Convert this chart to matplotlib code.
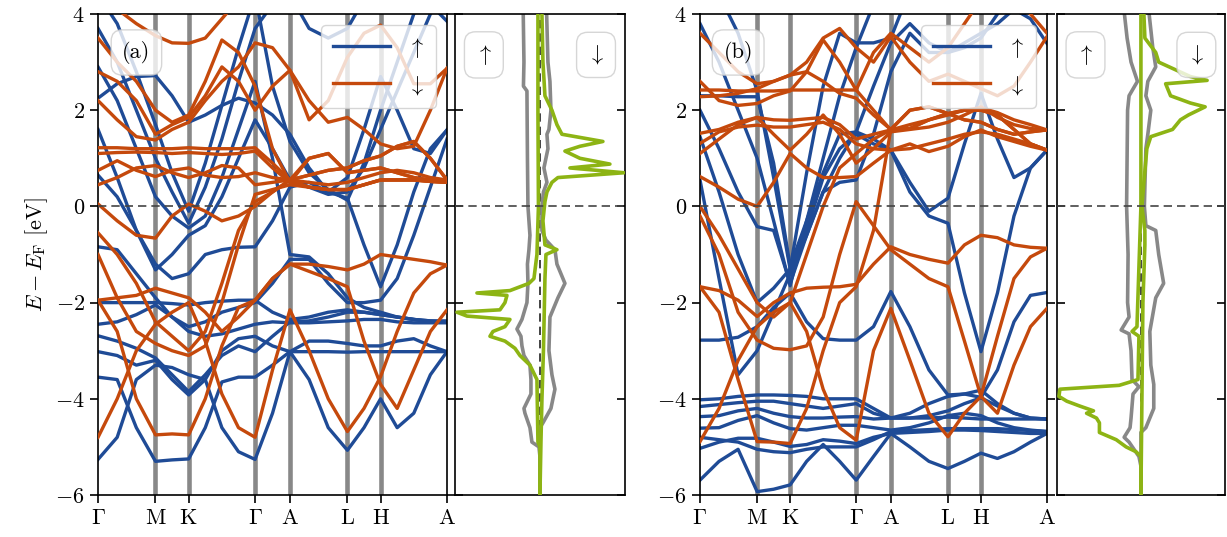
import matplotlib
matplotlib.use('Agg')
import matplotlib.pyplot as plt
from matplotlib.lines import Line2D
import numpy as np


# Style
plt.rcParams.update({
    'font.family': 'serif',
    'font.serif': ['cmr10', 'DejaVu Serif'],
    'mathtext.fontset': 'cm',
    'axes.unicode_minus': False,
    'font.size': 16,
    'axes.linewidth': 1.2,
})

BLUE = '#1f4b96'
ORANGE = '#c5490c'
GREEN = '#8db414'
GREY = '#888888'


# Data
# k-path: segment lengths and sample fractions along each segment
k_labels = [r'$\Gamma$', r'$\mathrm{M}$', r'$\mathrm{K}$', r'$\Gamma$',
            r'$\mathrm{A}$', r'$\mathrm{L}$', r'$\mathrm{H}$', r'$\mathrm{A}$']
seg_len = [0.577, 0.333, 0.667, 0.35, 0.577, 0.333, 0.667]
seg_frac = [[0, 1/3, 2/3], [0, 0.5], [0, 0.25, 0.5, 0.75], [0, 0.5],
            [0, 1/3, 2/3], [0, 0.5], [0, 0.25, 0.5, 0.75]]

# (a) bands, energies [eV] at the 21 k samples
a_up = [
    [-5.26, -4.8, -3.6, -3.3, -3.35, -3.5, -3.6, -4.6, -5.1, -5.26, -4.3, -3.02, -3.6, -4.6, -5.07, -4.6, -4.0, -4.6, -4.3, -3.5, -3.02],
    [-3.55, -3.6, -4.6, -5.3, -5.27, -5.25, -4.6, -3.65, -3.55, -3.55, -3.3, -3.02, -2.8, -2.8, -2.85, -2.9, -2.9, -2.8, -2.75, -2.9, -3.02],
    [-3.02, -3.1, -3.3, -3.2, -3.6, -3.92, -3.6, -3.0, -2.75, -2.7, -2.9, -3.02, -3.02, -3.02, -3.03, -3.02, -3.02, -3.02, -3.02, -3.02, -3.02],
    [-2.69, -2.8, -2.95, -3.15, -3.5, -3.85, -3.5, -3.1, -2.9, -3.02, -2.7, -2.4, -2.38, -2.3, -2.2, -2.2, -2.25, -2.3, -2.35, -2.4, -2.4],
    [-2.45, -2.4, -2.25, -2.05, -2.3, -2.6, -2.7, -2.65, -2.55, -2.45, -2.4, -2.42, -2.42, -2.4, -2.38, -2.35, -2.35, -2.4, -2.42, -2.42, -2.42],
    [-2.0, -2.0, -2.0, -2.0, -2.02, -2.05, -2.0, -1.97, -1.95, -1.95, -2.2, -2.35, -2.3, -2.2, -2.15, -2.2, -2.25, -2.3, -2.35, -2.38, -2.38],
    [-0.84, -0.9, -1.4, -1.9, -2.3, -2.5, -2.4, -2.2, -2.1, -2.0, -1.6, -1.1, -1.1, -1.6, -2.0, -2.0, -1.95, -1.5, -0.6, 0.4, 1.4],
    [0.65, 0.2, -0.5, -1.2, -1.5, -1.4, -1.0, -0.9, -0.85, -0.84, -0.3, 0.4, 0.5, 0.3, 0.17, -0.8, -1.67, -0.8, 0.3, 1.2, 1.59],
    [2.25, 2.55, 2.7, 2.72, 2.3, 1.75, 1.9, 2.1, 2.25, 2.15, 1.9, 1.5, 0.8, 0.3, 0.6, 1.6, 2.7, 2.0, 1.2, 1.1, 1.59],
    [3.7, 3.0, 2.0, 1.0, 0.3, -0.35, 0.4, 1.4, 2.6, 3.7, 4.2, 4.4, 3.7, 3.5, 3.7, 4.3, 4.5, 4.5, 4.5, 4.2, 3.85],
    [4.4, 3.8, 2.8, 1.7, 0.7, -0.1, 0.9, 2.1, 3.3, 4.4, 2.5, 1.35, 0.7, 0.35, 0.13, 0.9, 2.0, 3.0, 4.0, 4.5, 4.5],
    [1.6, 0.6, -0.5, -1.32, -1.0, -0.6, -0.4, 0.2, 1.0, 1.8, 1.2, 0.55, 0.4, 0.25, 0.3, 0.8, 1.6, 2.4, 3.2, 4.0, 4.5],
    [2.9, 2.2, 1.2, 0.2, -0.2, -0.45, -0.2, 0.6, 1.6, 2.6, 1.0, -1.0, -1.05, -1.4, -1.9, -2.1, -2.2, -2.3, -2.35, -2.38, -2.4],
]
a_dn = [
    [-4.8, -4.0, -3.0, -2.45, -2.2, -2.0, -2.8, -3.9, -4.6, -4.8, -3.4, -2.15, -3.0, -4.0, -4.68, -4.2, -3.54, -2.6, -1.8, -1.4, -1.22],
    [-1.95, -2.6, -4.0, -4.75, -4.73, -4.75, -4.0, -2.9, -2.1, -1.95, -1.5, -1.2, -1.35, -1.5, -1.67, -2.8, -3.7, -4.2, -3.4, -2.6, -2.15],
    [-1.0, -1.9, -2.6, -2.85, -3.0, -3.1, -2.9, -2.0, -0.8, 0.25, 0.35, 0.45, 0.4, 0.35, 0.35, 0.45, 0.55, 0.55, 0.55, 0.52, 0.5],
    [-1.95, -1.9, -1.85, -1.7, -1.8, -1.9, -2.2, -2.6, -2.3, -1.95, -1.5, -1.2, -1.2, -1.25, -1.32, -1.2, -1.0, -1.05, -1.1, -1.15, -1.22],
    [-0.55, -1.0, -1.6, -2.4, -2.7, -3.0, -2.6, -1.6, -0.5, 0.1, 0.3, 0.55, 0.65, 0.75, 0.8, 0.95, 1.05, 1.25, 1.35, 1.0, 0.55],
    [0.05, -0.3, -0.6, -0.66, -0.2, 0.05, -0.1, -0.3, -0.2, 0.0, 0.3, 0.55, 1.0, 1.1, 0.7, 0.75, 0.8, 0.7, 0.6, 0.55, 0.55],
    [0.45, 0.6, 0.8, 0.85, 0.7, 0.6, 0.7, 0.85, 0.8, 0.45, 0.5, 0.55, 0.5, 0.45, 0.5, 0.6, 0.7, 0.75, 0.7, 0.6, 0.55],
    [0.75, 0.95, 0.75, 0.62, 0.75, 0.8, 0.65, 0.6, 0.62, 0.7, 0.6, 0.55, 0.4, 0.35, 0.35, 0.45, 0.55, 0.55, 0.55, 0.52, 0.5],
    [1.22, 1.22, 1.2, 1.2, 1.2, 1.22, 1.2, 1.2, 1.2, 1.22, 0.9, 0.55, 0.65, 0.75, 0.8, 0.95, 1.05, 1.25, 1.35, 1.0, 0.55],
    [1.1, 1.12, 1.13, 1.12, 1.1, 1.12, 1.1, 1.08, 1.1, 1.15, 0.8, 0.5, 1.0, 1.1, 0.7, 0.75, 0.8, 0.7, 0.6, 0.55, 0.55],
    [2.2, 1.8, 1.45, 1.38, 1.6, 1.75, 2.2, 2.6, 2.9, 3.4, 3.3, 2.83, 2.2, 1.75, 1.85, 1.6, 1.3, 1.2, 1.25, 2.0, 2.87],
    [2.8, 2.6, 2.2, 1.5, 1.7, 1.85, 2.3, 2.9, 2.6, 2.0, 2.5, 2.83, 1.8, 2.2, 3.1, 3.6, 3.77, 3.3, 2.55, 2.55, 2.87],
    [4.3, 4.1, 3.8, 3.55, 3.4, 3.39, 3.5, 3.9, 4.3, 4.5, 4.5, 4.5, 4.5, 4.5, 4.5, 4.5, 4.5, 4.5, 4.5, 4.5, 4.5],
    [3.5, 3.0, 2.6, 2.0, 1.75, 1.9, 2.6, 3.46, 3.2, 2.5, 1.2, 0.5, 0.4, 0.35, 0.35, 0.45, 0.55, 0.55, 0.55, 0.52, 0.5],
]

# (b) bands
b_up = [
    [-5.69, -5.3, -5.05, -5.93, -5.88, -5.79, -5.3, -4.95, -5.3, -5.69, -5.2, -4.72, -5.0, -5.3, -5.45, -5.3, -5.13, -5.24, -5.1, -4.9, -4.72],
    [-5.03, -4.9, -4.82, -4.82, -4.9, -4.99, -4.95, -4.85, -4.88, -4.93, -4.8, -4.72, -4.7, -4.68, -4.65, -4.65, -4.66, -4.68, -4.7, -4.72, -4.72],
    [-4.8, -4.85, -4.9, -5.05, -5.1, -5.12, -5.05, -5.0, -5.0, -5.0, -4.85, -4.68, -4.66, -4.64, -4.62, -4.62, -4.62, -4.62, -4.64, -4.66, -4.68],
    [-4.61, -4.6, -4.45, -4.35, -4.5, -4.62, -4.65, -4.6, -4.55, -4.55, -4.6, -4.65, -4.6, -4.5, -4.35, -4.3, -4.35, -4.5, -4.6, -4.65, -4.68],
    [-4.37, -4.35, -4.25, -4.2, -4.3, -4.37, -4.4, -4.4, -4.38, -4.37, -4.42, -4.4, -4.4, -4.4, -4.38, -4.4, -4.42, -4.42, -4.42, -4.42, -4.42],
    [-4.16, -4.12, -4.08, -4.05, -4.05, -4.1, -4.15, -4.2, -4.15, -4.1, -4.3, -4.4, -4.4, -4.35, -4.25, -4.1, -3.98, -4.15, -4.3, -4.4, -4.42],
    [-4.02, -4.0, -3.95, -3.92, -3.92, -3.93, -3.95, -4.0, -4.0, -4.0, -4.2, -4.4, -4.3, -4.1, -3.95, -3.9, -3.82, -4.1, -4.3, -4.4, -4.42],
    [-2.78, -2.78, -2.72, -2.5, -2.1, -1.8, -2.4, -2.75, -2.78, -2.78, -2.5, -1.77, -2.5, -3.4, -3.92, -3.9, -3.97, -3.4, -2.4, -1.85, -1.79],
    [0.55, -1.5, -3.5, -3.0, -2.2, -1.4, -0.6, 0.3, 1.0, 1.55, 1.4, 1.17, 0.3, -0.2, -0.35, -1.8, -3.02, -1.8, -0.2, 0.8, 1.17],
    [1.45, 0.3, -1.0, -2.0, -1.7, -1.3, -0.5, 0.6, 1.2, 1.5, 1.3, 1.17, 0.5, -0.1, 0.17, 1.3, 2.35, 1.4, 0.6, 0.8, 1.17],
    [2.0, 1.2, 0.3, -0.42, -0.5, -1.6, -0.6, 0.3, 0.5, 0.55, 1.5, 2.8, 3.6, 3.2, 3.2, 3.4, 3.6, 3.8, 4.1, 3.9, 3.39],
    [2.3, 2.3, 2.28, 2.28, 0.9, -1.25, -0.3, 0.7, 1.5, 1.55, 2.5, 3.4, 3.8, 3.4, 3.2, 3.3, 3.5, 4.0, 4.5, 4.5, 4.5],
    [4.5, 4.4, 3.6, 2.4, 0.6, -1.3, 0.7, 2.5, 3.6, 3.4, 3.4, 3.5, 4.5, 4.5, 4.5, 4.5, 4.5, 4.5, 4.5, 4.5, 4.5],
    [3.8, 3.0, 2.0, 1.0, -0.3, -1.65, -0.3, 1.0, 2.3, 3.3, 4.2, 4.5, 4.5, 4.5, 4.5, 4.5, 4.5, 4.5, 4.5, 4.5, 4.5],
]
b_dn = [
    [-4.89, -4.2, -3.2, -2.5, -2.2, -2.0, -2.6, -3.8, -4.6, -4.86, -3.0, -2.12, -3.2, -4.3, -4.79, -4.3, -3.95, -2.7, -1.5, -1.05, -0.87],
    [-1.67, -2.2, -3.6, -4.89, -4.9, -4.93, -4.2, -3.0, -2.0, -1.67, -0.5, 1.6, 2.0, 2.07, 1.93, 2.0, 2.0, 1.9, 1.6, 1.3, 1.17],
    [-1.67, -1.75, -1.95, -2.29, -2.0, -1.8, -1.7, -1.68, -1.67, -1.62, -1.2, -0.84, -1.0, -1.1, -1.18, -0.8, -0.6, -0.65, -0.8, -0.85, -0.87],
    [-0.2, -1.0, -2.2, -2.78, -2.95, -2.98, -2.9, -2.3, -1.0, 0.1, -0.4, -0.9, -1.2, -1.5, -1.67, -2.8, -3.95, -4.3, -3.3, -2.5, -2.12],
    [0.0, -0.6, -1.3, -2.0, -2.3, -2.0, -1.0, 0.0, 0.8, 1.1, 1.4, 1.59, 1.62, 1.8, 1.93, 1.8, 1.75, 1.6, 1.5, 1.55, 1.59],
    [0.62, 0.4, 0.15, 0.0, 0.5, 1.1, 0.8, 0.6, 0.6, 0.62, 0.9, 1.17, 1.3, 1.14, 1.25, 1.45, 1.59, 1.45, 1.35, 1.25, 1.17],
    [1.1, 1.4, 1.7, 1.85, 1.5, 1.17, 1.5, 1.9, 1.5, 0.9, 1.2, 1.55, 1.6, 1.65, 1.75, 1.9, 2.07, 1.85, 1.7, 1.62, 1.59],
    [1.31, 1.55, 1.65, 1.69, 1.65, 1.65, 1.7, 1.75, 1.6, 1.3, 1.2, 1.17, 1.2, 1.3, 1.4, 1.5, 1.55, 1.5, 1.4, 1.3, 1.17],
    [1.52, 1.6, 1.75, 1.85, 1.8, 1.79, 1.82, 1.85, 1.7, 1.4, 1.5, 1.59, 1.7, 1.8, 1.9, 2.0, 2.05, 1.95, 1.8, 1.7, 1.59],
    [2.42, 2.42, 2.4, 2.4, 2.4, 2.42, 2.42, 2.42, 2.42, 2.42, 2.0, 1.59, 1.62, 1.8, 1.93, 1.8, 1.75, 1.6, 1.5, 1.55, 1.59],
    [2.28, 2.3, 2.35, 2.45, 2.6, 2.73, 2.8, 2.6, 2.35, 2.25, 1.9, 1.6, 2.0, 2.07, 1.93, 2.0, 2.0, 1.9, 1.6, 1.3, 1.17],
    [3.6, 3.2, 2.8, 2.55, 2.6, 2.73, 3.0, 3.5, 3.7, 3.3, 3.0, 3.53, 3.0, 2.6, 2.75, 2.6, 2.45, 2.3, 2.5, 3.0, 3.53],
    [2.6, 2.2, 2.1, 2.14, 2.3, 2.4, 2.8, 3.46, 3.0, 2.42, 3.2, 3.6, 3.3, 3.0, 3.3, 3.8, 4.3, 4.5, 4.5, 4.0, 3.6],
]

# (a) DOS, (energy, value) pairs; spin up plotted to the left
a_tot_up_E = [4.0, 3.0, 2.5, 2.4, 1.0, 0.0, -0.6, -0.9, -1.2, -1.6, -2.0, -2.35, -2.55, -2.7, -2.9, -3.1, -3.3, -3.6, -3.9, -4.2, -4.3, -4.6, -4.9, -5.0, -5.2, -6.0]
a_tot_up = [-1.67, -1.6, -1.65, -1.3, -1.25, -1.2, -1.0, -1.1, -1.25, -1.2, -1.3, -1.8, -2.3, -1.9, -1.8, -1.6, -1.0, -0.9, -0.9, -1.6, -1.5, -1.0, -0.8, -0.1, 0.0, 0.0]
a_tot_dn_E = [4.0, 3.0, 2.6, 2.0, 1.6, 1.5, 1.2, 1.0, 0.8, 0.5, 0.3, 0.0, -0.5, -0.7, -0.9, -1.2, -1.6, -1.9, -2.3, -3.0, -3.5, -3.8, -4.2, -4.5, -4.6, -6.0]
a_tot_dn = [0.67, 0.8, 1.0, 1.1, 0.9, 0.7, 0.8, 0.6, 0.4, 0.7, 0.35, 0.2, 0.2, 0.6, 1.5, 1.7, 2.5, 1.8, 1.0, 0.9, 1.2, 1.5, 1.1, 0.3, 0.0, 0.0]
a_pd_up_E = [4.0, 2.0, 0.0, -1.0, -1.5, -1.6, -1.75, -1.8, -1.85, -2.0, -2.15, -2.2, -2.28, -2.35, -2.5, -2.6, -2.7, -2.8, -2.95, -3.1, -3.3, -3.6, -4.9, -5.0, -6.0]
a_pd_up = [-0.2, -0.2, -0.15, -0.3, -0.6, -1.1, -3.0, -6.3, -3.3, -3.5, -4.0, -8.3, -7.3, -3.0, -3.5, -4.7, -5.0, -3.5, -2.5, -2.0, -1.0, -0.3, -0.2, 0.0, 0.0]
a_pd_dn_E = [4.0, 3.0, 2.3, 2.0, 1.7, 1.5, 1.35, 1.25, 1.15, 1.0, 0.88, 0.8, 0.7, 0.6, 0.5, 0.3, 0.1, -0.3, -0.8, -0.9, -1.0, -1.5, -3.0, -4.0, -4.9, -6.0]
a_pd_dn = [0.2, 0.3, 0.5, 1.2, 1.7, 2.2, 6.3, 4.0, 2.5, 4.0, 7.0, 3.0, 8.4, 1.8, 1.2, 0.7, 0.5, 0.3, 0.5, 1.7, 0.6, 0.5, 0.35, 0.2, 0.1, 0.0]

# (b) DOS
b_tot_up_E = [4.0, 3.5, 3.0, 2.6, 2.3, 2.0, 0.0, -1.0, -2.0, -2.3, -2.57, -2.65, -3.0, -3.6, -3.75, -3.9, -4.4, -4.6, -4.8, -4.9, -5.2, -5.4, -6.0]
b_tot_up = [-1.67, -1.4, -1.0, -0.35, -1.2, -1.35, -1.45, -1.3, -1.35, -1.2, -2.0, -1.2, -1.0, -0.9, -0.2, -0.8, -1.0, -1.1, -1.7, -1.2, -0.2, 0.0, 0.0]
b_tot_dn_E = [4.0, 3.3, 2.9, 2.6, 2.3, 2.0, 1.5, 1.2, 0.0, -0.4, -0.5, -1.0, -1.6, -1.9, -2.6, -3.3, -3.7, -4.2, -4.6, -4.7, -6.0]
b_tot_dn = [0.83, 1.2, 1.5, 0.7, 0.5, 1.0, 0.7, 0.5, 0.35, 0.5, 1.5, 1.8, 2.3, 1.5, 0.9, 1.0, 1.3, 1.3, 0.5, 0.0, 0.0]
b_pd_up_E = [4.0, 0.0, -2.5, -2.6, -2.7, -3.6, -3.72, -3.8, -3.95, -4.05, -4.15, -4.25, -4.3, -4.4, -4.5, -4.7, -4.85, -5.0, -5.1, -5.2, -6.0]
b_pd_up = [0.0, 0.0, -0.4, -0.9, -0.2, -0.3, -2.2, -8.2, -8.3, -7.5, -6.2, -4.8, -5.5, -4.5, -4.2, -4.2, -2.5, -1.5, -0.5, 0.0, 0.0]
b_pd_dn_E = [4.0, 3.5, 3.2, 3.0, 2.7, 2.62, 2.55, 2.3, 2.15, 2.07, 1.9, 1.8, 1.6, 1.45, 1.2, 0.5, 0.0, -0.5, -0.8, -2.0, -4.0, -6.0]
b_pd_dn = [0.3, 0.4, 1.5, 1.8, 5.0, 6.7, 2.5, 3.0, 5.0, 6.5, 4.8, 4.0, 3.2, 1.0, 0.6, 0.3, 0.1, 0.4, 0.4, 0.2, 0.1, 0.0]


# k positions
kticks = np.concatenate([[0], np.cumsum(seg_len)])
kpts = [kticks[i] + f * seg_len[i] for i in range(len(seg_len)) for f in seg_frac[i]]
kpts.append(kticks[-1])


def band_panel(ax, up, dn, tag):
    for xk in kticks[1:-1]:
        ax.axvline(xk, color=GREY, lw=3.3, zorder=1)
    ax.axhline(0, color='#444444', lw=1.2, ls=(0, (5, 3)), zorder=4)
    for e in up:
        ax.plot(kpts, e, color=BLUE, lw=2.4, zorder=2, solid_joinstyle='round')
    for e in dn:
        ax.plot(kpts, e, color=ORANGE, lw=2.4, zorder=3, solid_joinstyle='round')
    ax.set_xlim(kticks[0], kticks[-1])
    ax.set_ylim(-6, 4)
    ax.set_xticks(kticks)
    ax.set_xticklabels(k_labels)
    ax.set_yticks([-6, -4, -2, 0, 2, 4])
    ax.set_yticklabels(['$-6$', '$-4$', '$-2$', '$0$', '$2$', '$4$'])
    ax.tick_params(direction='out', length=6, width=1.2, right=True, labelsize=16)
    ax.text(0.11, 0.92, tag, transform=ax.transAxes, ha='center', va='center', fontsize=16,
            bbox=dict(boxstyle='round,pad=0.5', fc='white', ec='#cccccc', alpha=0.8), zorder=6)
    handles = [Line2D([], [], color=BLUE, lw=2.4), Line2D([], [], color=ORANGE, lw=2.4)]
    leg = ax.legend(handles, [r'$\uparrow$', r'$\downarrow$'], loc='upper right', fontsize=16,
                    handlelength=2.6, borderaxespad=0.5, framealpha=0.8, edgecolor='#cccccc',
                    borderpad=0.5, labelspacing=0.6)
    leg.set_zorder(6)


def dos_panel(ax, series):
    ax.axhline(0, color='#444444', lw=1.2, ls=(0, (5, 3)), zorder=4)
    ax.axvline(0, color='#222222', lw=1.2, ls=(0, (5, 3)), zorder=1)
    for E, v, c in series:
        ax.plot(v, E, color=c, lw=2.6, zorder=2 if c == GREY else 3)
    ax.set_xlim(-8.5, 8.5)
    ax.set_ylim(-6, 4)
    ax.set_xticks([])
    ax.set_yticks([-6, -4, -2, 0, 2, 4])
    ax.set_yticklabels([])
    ax.tick_params(direction='in', length=6, width=1.2, right=True)
    box = dict(boxstyle='round,pad=0.5', fc='white', ec='#cccccc', alpha=0.8)
    ax.text(0.17, 0.915, r'$\uparrow$', transform=ax.transAxes, ha='center', va='center', fontsize=16, bbox=box)
    ax.text(0.83, 0.915, r'$\downarrow$', transform=ax.transAxes, ha='center', va='center', fontsize=16, bbox=box)


# Plotting
fig = plt.figure(figsize=(12.27, 5.37), dpi=100)
ax_a = fig.add_axes([0.0799, 0.0782, 0.2844, 0.8957])
ax_ad = fig.add_axes([0.3708, 0.0782, 0.1385, 0.8957])
ax_b = fig.add_axes([0.5705, 0.0782, 0.2828, 0.8957])
ax_bd = fig.add_axes([0.8614, 0.0782, 0.1369, 0.8957])

band_panel(ax_a, a_up, a_dn, '(a)')
band_panel(ax_b, b_up, b_dn, '(b)')
ax_a.set_ylabel(r'$E - E_\mathrm{F}$ [eV]', fontsize=16)

dos_panel(ax_ad, [(a_tot_up_E, a_tot_up, GREY), (a_tot_dn_E, a_tot_dn, GREY),
                  (a_pd_up_E, a_pd_up, GREEN), (a_pd_dn_E, a_pd_dn, GREEN)])
dos_panel(ax_bd, [(b_tot_up_E, b_tot_up, GREY), (b_tot_dn_E, b_tot_dn, GREY),
                  (b_pd_up_E, b_pd_up, GREEN), (b_pd_dn_E, b_pd_dn, GREEN)])

fig.savefig('out.png', dpi=100)
